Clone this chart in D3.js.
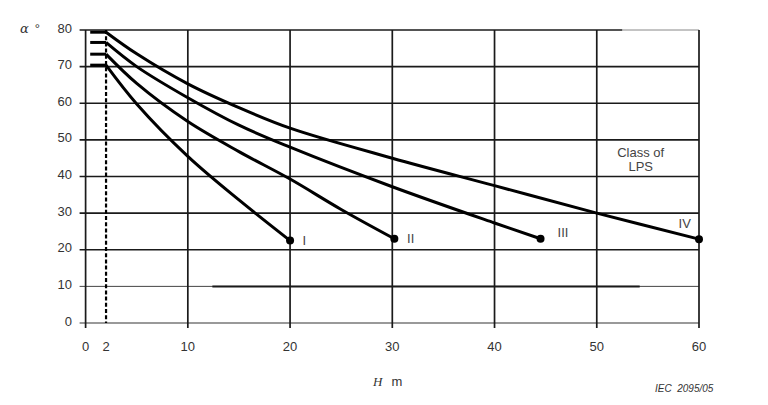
<!DOCTYPE html>
<html><head><meta charset="utf-8">
<script src="https://cdn.jsdelivr.net/npm/d3@7"></script>
<style>body{margin:0;background:#fff}svg{display:block}text{font-family:"Liberation Sans",Arial,sans-serif}</style>
</head><body><svg id="c" width="768" height="405"></svg>
<script>
const xTicks = [0, 2, 10, 20, 30, 40, 50, 60];
const xGrid = [0, 10, 20, 30, 40, 50, 60];
const yTicks = [0, 10, 20, 30, 40, 50, 60, 70, 80];
const classes = ["I", "II", "III", "IV"];
const heightsI = [2, 5, 10, 15, 20];
const anglesI = [70.4, 59.8, 45.5, 33.6, 22.5];
const heightsII = [2, 5, 10, 15, 20, 25, 30.2];
const anglesII = [73.4, 65.4, 55, 46.8, 39.3, 31, 23];
const heightsIII = [2, 5, 10, 15, 20, 30, 40, 44.5];
const anglesIII = [76.6, 70, 61.5, 54, 48, 37.2, 27.3, 23];
const heightsIV = [2, 5, 10, 15, 20, 30, 40, 50, 60];
const anglesIV = [79.4, 73.5, 65.3, 58.8, 53.2, 45, 37.5, 30, 22.9];
const labelPos = [[21.4, 22.5], [31.8, 23.2], [46.7, 24.7], [58.6, 27.1]];
const stubStart = 0.45;

const svg = d3.select("#c");
const x = d3.scaleLinear().domain([0, 60]).range([85.6, 699]);
const y = d3.scaleLinear().domain([0, 80]).range([323, 30]);
const ink = "#1a1a1a";

// horizontal grid
svg.append("g").selectAll("line").data(yTicks).join("line")
  .attr("x1", x(0) - 6).attr("x2", x(60))
  .attr("y1", d => y(d)).attr("y2", d => y(d))
  .attr("stroke", d => d === 0 ? "#777" : (d === 10 ? "#444" : ink))
  .attr("stroke-width", d => d === 10 ? 1 : 1.7);
// thick part of 10 line
svg.append("line").attr("x1", x(12.4)).attr("x2", x(54.2))
  .attr("y1", y(10)).attr("y2", y(10)).attr("stroke", ink).attr("stroke-width", 2);
// lighter right part of top line
svg.append("line").attr("x1", x(52.5)).attr("x2", x(60))
  .attr("y1", y(80)).attr("y2", y(80)).attr("stroke", "#fff").attr("stroke-width", 2);
svg.append("line").attr("x1", x(52.5)).attr("x2", x(60))
  .attr("y1", y(80)).attr("y2", y(80)).attr("stroke", "#888").attr("stroke-width", 1);

// vertical grid
svg.append("g").selectAll("line").data(xGrid).join("line")
  .attr("x1", d => x(d)).attr("x2", d => x(d))
  .attr("y1", y(80)).attr("y2", y(0) + 5)
  .attr("stroke", ink).attr("stroke-width", 1.7);

// dashed line at H = 2
svg.append("line").attr("x1", x(2)).attr("x2", x(2))
  .attr("y1", y(80)).attr("y2", y(0))
  .attr("stroke", "#000").attr("stroke-width", 2.2).attr("stroke-dasharray", "4,2.2");

// curves
const series = [
  heightsI.map((h, i) => [h, anglesI[i]]),
  heightsII.map((h, i) => [h, anglesII[i]]),
  heightsIII.map((h, i) => [h, anglesIII[i]]),
  heightsIV.map((h, i) => [h, anglesIV[i]])
];
const line = d3.line().x(d => x(d[0])).y(d => y(d[1])).curve(d3.curveCatmullRom.alpha(0.5));
svg.append("g").selectAll("path").data(series).join("path")
  .attr("d", line).attr("fill", "none").attr("stroke", "#000").attr("stroke-width", 3);
// stubs
svg.append("g").selectAll("line").data(series).join("line")
  .attr("x1", x(stubStart)).attr("x2", d => x(d[0][0]))
  .attr("y1", d => y(d[0][1])).attr("y2", d => y(d[0][1]))
  .attr("stroke", "#000").attr("stroke-width", 3);
// end dots
svg.append("g").selectAll("circle").data(series).join("circle")
  .attr("cx", d => x(d[d.length - 1][0])).attr("cy", d => y(d[d.length - 1][1]))
  .attr("r", 4).attr("fill", "#000");
// class labels
svg.append("g").selectAll("text").data(classes).join("text")
  .attr("x", (d, i) => x(labelPos[i][0])).attr("y", (d, i) => y(labelPos[i][1]))
  .attr("text-anchor", "middle").attr("dominant-baseline", "central")
  .attr("font-size", 13).attr("fill", "#444").text(d => d);

svg.append("text").attr("x", x(54.3)).attr("y", y(46.5)).attr("text-anchor", "middle")
  .attr("dominant-baseline", "central").attr("font-size", 13).attr("fill", "#444").text("Class of");
svg.append("text").attr("x", x(54.3)).attr("y", y(42.6)).attr("text-anchor", "middle")
  .attr("dominant-baseline", "central").attr("font-size", 13).attr("fill", "#444").text("LPS");

// y tick labels
svg.append("g").selectAll("text").data(yTicks).join("text")
  .attr("x", 72).attr("y", d => y(d) - 2).attr("text-anchor", "end")
  .attr("dominant-baseline", "central").attr("font-size", 13).attr("fill", "#333").text(d => d);
// x tick labels
svg.append("g").selectAll("text").data(xTicks).join("text")
  .attr("x", d => x(d)).attr("y", 346).attr("text-anchor", "middle")
  .attr("dominant-baseline", "central").attr("font-size", 13).attr("fill", "#333").text(d => d);

// axis titles
const yt = svg.append("text").attr("x", 20).attr("y", 28).attr("dominant-baseline", "central")
  .attr("font-size", 13).attr("fill", "#333");
yt.append("tspan").attr("font-style", "italic").attr("font-family", "'DejaVu Serif',serif").text("α");
yt.append("tspan").attr("dx", 6).text("°");
const xt = svg.append("text").attr("x", 373).attr("y", 381).attr("dominant-baseline", "central")
  .attr("font-size", 13).attr("fill", "#333");
xt.append("tspan").attr("font-style", "italic").attr("font-family", "'Liberation Serif',serif").text("H");
xt.append("tspan").attr("dx", 9).text("m");

svg.append("text").attr("x", 655).attr("y", 388).attr("dominant-baseline", "central")
  .attr("font-size", 10).attr("font-style", "italic").attr("fill", "#333")
  .attr("xml:space", "preserve").text("IEC  2095/05");
</script></body></html>
